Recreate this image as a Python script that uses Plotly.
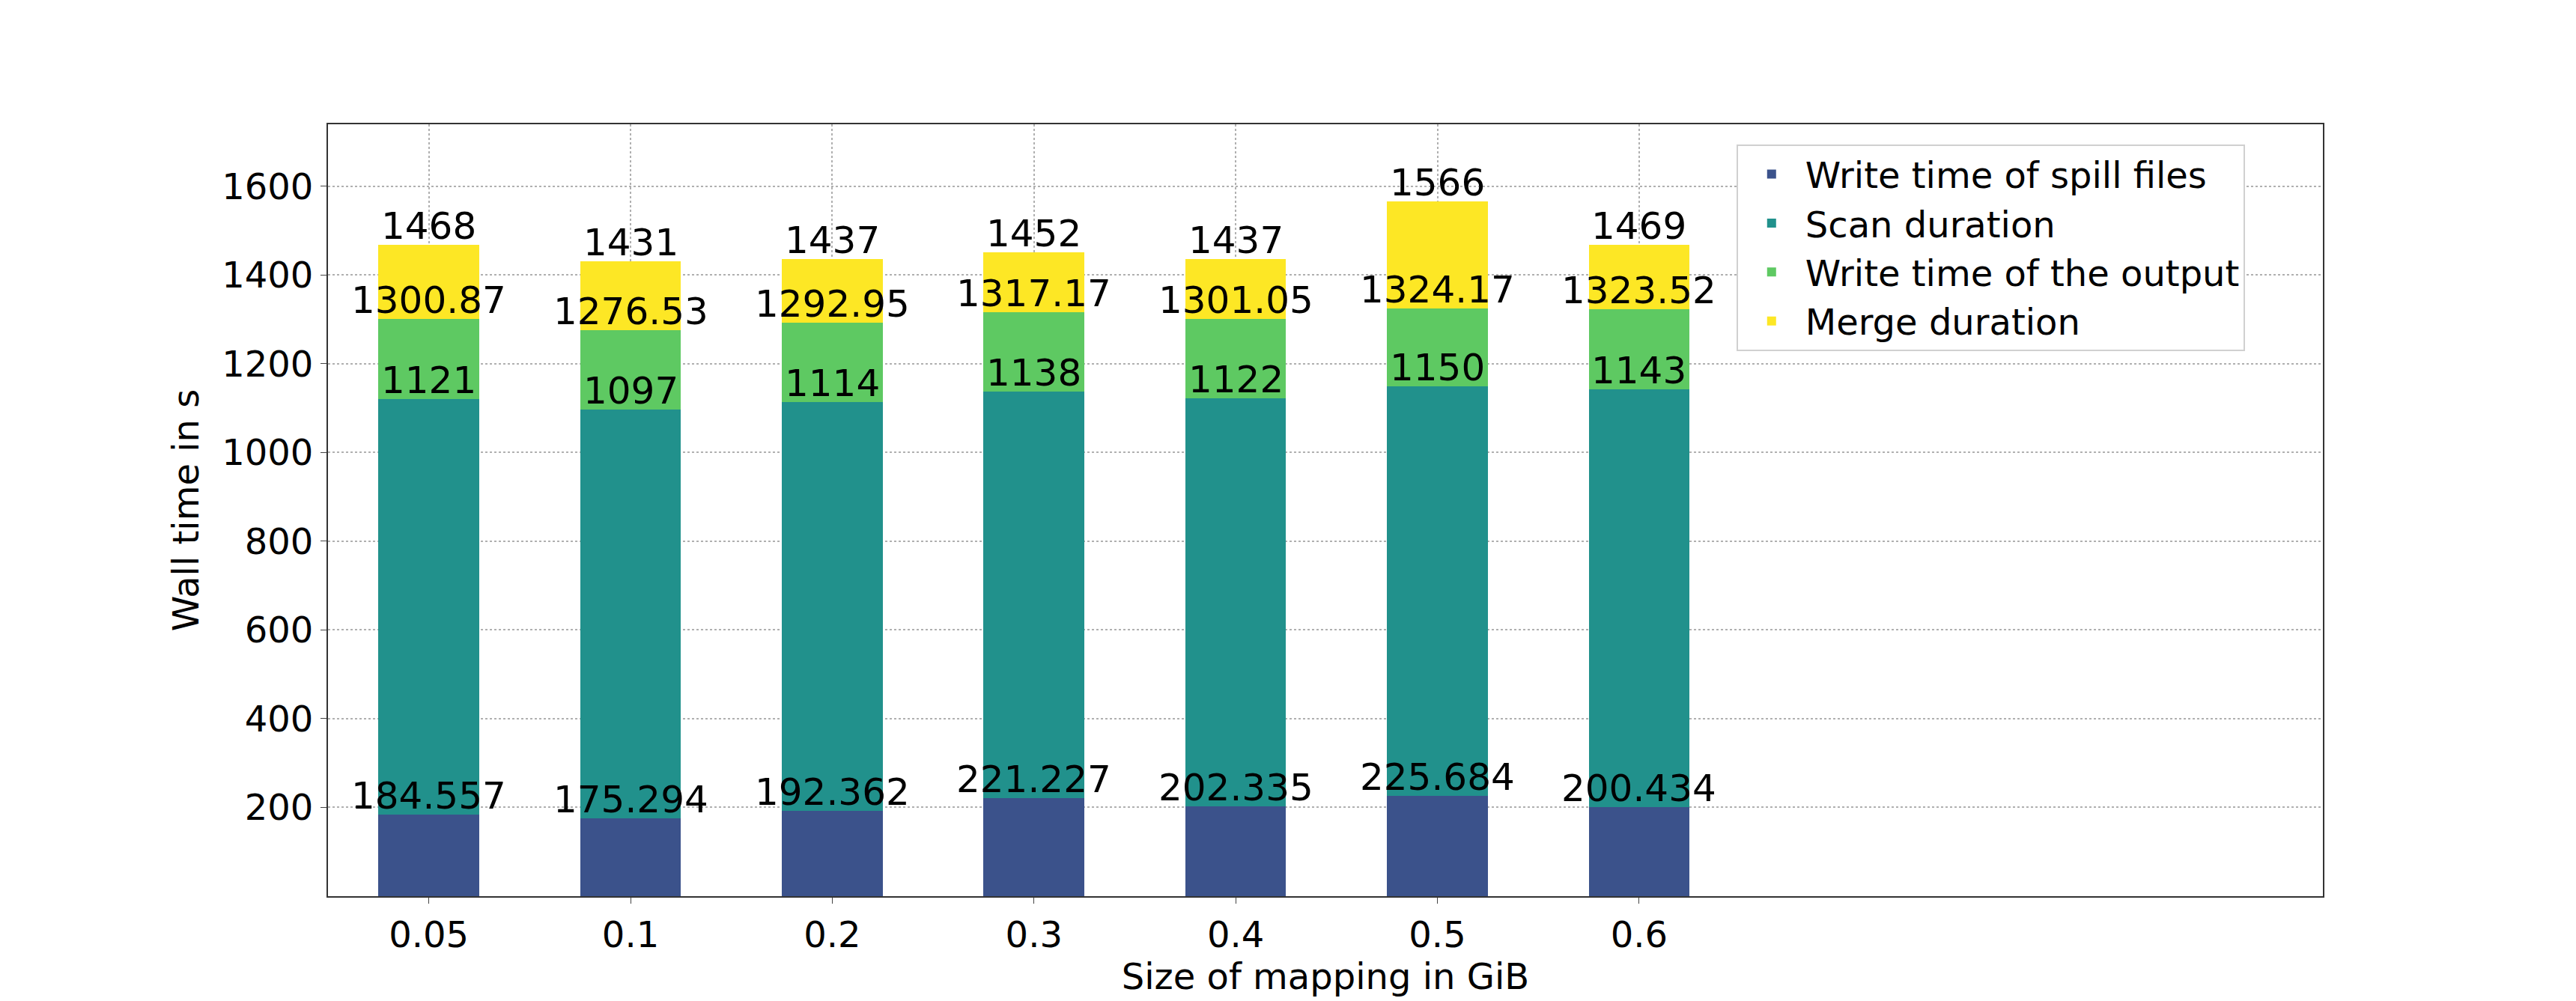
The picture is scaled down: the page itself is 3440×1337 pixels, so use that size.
import plotly.graph_objects as go

sizes = ["0.05", "0.1", "0.2", "0.3", "0.4", "0.5", "0.6"]
spill_top = [184.557, 175.294, 192.362, 221.227, 202.335, 225.684, 200.434]
scan_top = [1121, 1097, 1114, 1138, 1122, 1150, 1143]
output_top = [1300.87, 1276.53, 1292.95, 1317.17, 1301.05, 1324.17, 1323.52]
merge_top = [1468, 1431, 1437, 1452, 1437, 1566, 1469]

names = ["Write time of spill files", "Scan duration", "Write time of the output", "Merge duration"]
colors = ["#3b528b", "#21918c", "#5ec962", "#fde725"]
tops = [spill_top, scan_top, output_top, merge_top]

fig = go.Figure()
prev = [0] * len(sizes)
for name, color, top in zip(names, colors, tops):
    fig.add_trace(go.Bar(
        x=sizes, y=[t - p for t, p in zip(top, prev)], base=prev,
        name=name, marker_color=color, marker_line_width=0, width=0.5,
    ))
    # label at the top edge of each segment (cumulative value)
    for i, t in enumerate(top):
        fig.add_annotation(x=i, y=t, text=f"{t:g}", showarrow=False,
                           yanchor="bottom", yshift=-6,
                           font=dict(size=50, color="black"))
    prev = top

fig.update_layout(
    barmode="overlay",
    width=3440, height=1337,
    margin=dict(l=430, r=346, t=158, b=148),
    plot_bgcolor="white", paper_bgcolor="white",
    font=dict(family="DejaVu Sans", size=48, color="black"),
    bargap=0,
    legend=dict(x=0.706, y=0.974, xanchor="left", yanchor="top",
                bordercolor="#d0d0d0", borderwidth=2, bgcolor="white",
                font=dict(size=48), itemwidth=80, tracegroupgap=4),
)
fig.update_xaxes(
    type="category", range=[-0.5, 9.39],
    title=dict(text="Size of mapping in GiB", font=dict(size=48), standoff=8),
    showline=True, linecolor="#333", linewidth=2, mirror=True,
    showgrid=True, gridcolor="#b0b0b0", griddash="dot", gridwidth=1.5,
    ticks="outside", ticklen=8, tickfont=dict(size=48),
)
fig.update_yaxes(
    range=[0, 1740], tickvals=[200, 400, 600, 800, 1000, 1200, 1400, 1600],
    title=dict(text="Wall time in s", font=dict(size=48), standoff=15),
    showline=True, linecolor="#333", linewidth=2, mirror=True,
    showgrid=True, gridcolor="#b0b0b0", griddash="dot", gridwidth=1.5,
    ticks="outside", ticklen=8, tickfont=dict(size=48), zeroline=False,
)

fig.write_html("out.html")
